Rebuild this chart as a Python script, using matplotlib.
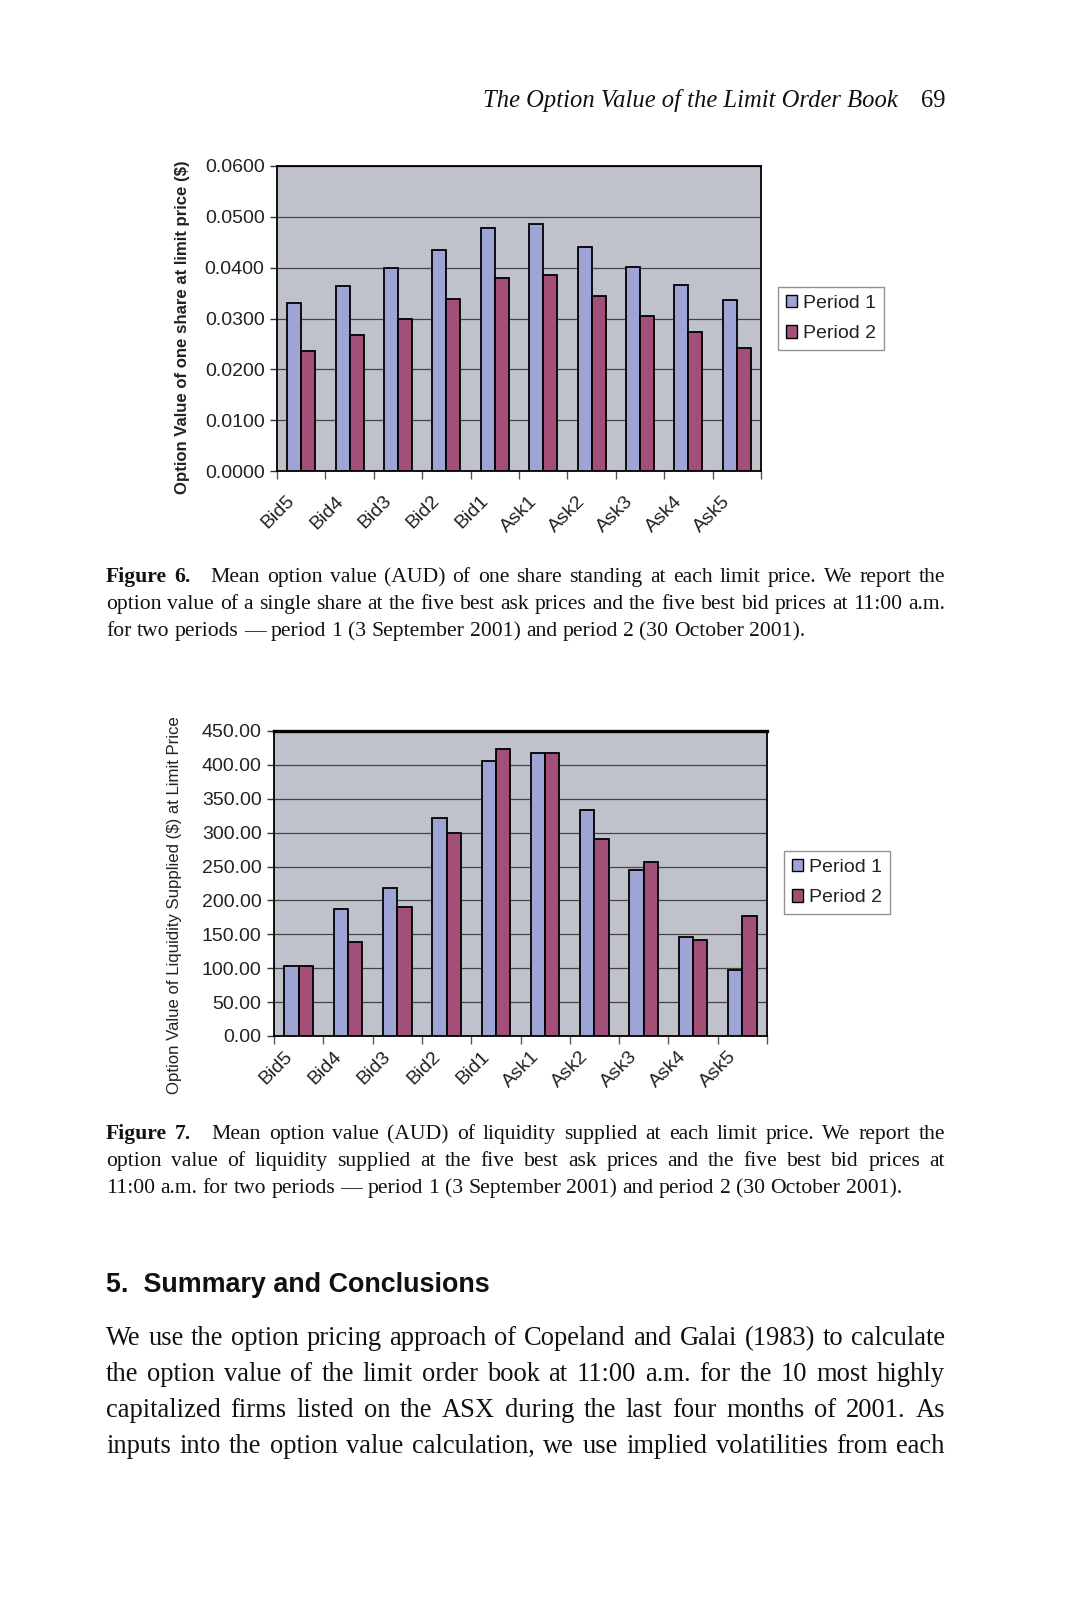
import matplotlib
matplotlib.use("Agg")
import matplotlib.pyplot as plt
from matplotlib.patches import Patch
from matplotlib.transforms import ScaledTranslation
import numpy as np

W, H = 1069, 1600
categories = ["Bid5", "Bid4", "Bid3", "Bid2", "Bid1", "Ask1", "Ask2", "Ask3", "Ask4", "Ask5"]
fig6_period1 = [0.0330, 0.0363, 0.0399, 0.0434, 0.0479, 0.0485, 0.0440, 0.0401, 0.0365, 0.0336]
fig6_period2 = [0.0237, 0.0267, 0.0300, 0.0338, 0.0380, 0.0386, 0.0345, 0.0305, 0.0273, 0.0242]
fig7_period1 = [103, 188, 218, 321, 406, 417, 334, 245, 146, 97]
fig7_period2 = [103, 139, 191, 299, 424, 417, 290, 256, 142, 177]
fig6_yticks = [0.0, 0.01, 0.02, 0.03, 0.04, 0.05, 0.06]
fig7_yticks = [0, 50, 100, 150, 200, 250, 300, 350, 400, 450]
series_names = ["Period 1", "Period 2"]

C1 = "#9ea5d6"
C2 = "#a2507a"
BG = "#bfc2cb"
SANS = ["Liberation Sans", "DejaVu Sans"]
SERIF = ["Liberation Serif", "DejaVu Serif"]

fig = plt.figure(figsize=(W / 100, H / 100), dpi=100)
fig.patch.set_facecolor("white")


def axrect(l, t, r, b):
    return [l / W, 1 - b / H, (r - l) / W, (b - t) / H]


def bar_chart(rect, p1, p2, yticks, fmt, ylabel, ylabel_xy, ylabel_bold, legend_xy, top_lw, xpad):
    ax = fig.add_axes(rect)
    ax.set_facecolor(BG)
    x = np.arange(len(categories))
    w = 0.29
    ax.bar(x - w / 2, p1, w, color=C1, edgecolor="black", linewidth=1.3, zorder=3)
    ax.bar(x + w / 2, p2, w, color=C2, edgecolor="black", linewidth=1.3, zorder=3)
    ax.set_xlim(-0.5, len(categories) - 0.5)
    ax.set_ylim(yticks[0], yticks[-1])
    ax.set_yticks(yticks)
    ax.set_yticklabels([fmt % v for v in yticks], fontfamily=SANS, fontsize=14, color="#222222")
    ax.yaxis.grid(True, color="#444444", linewidth=0.9, zorder=1)
    ax.set_axisbelow(True)
    ax.tick_params(axis="y", direction="out", length=5, width=1, pad=4, color="#333333")
    ax.set_xticks(x)
    ax.set_xticklabels(categories, fontfamily=SANS, fontsize=14, rotation=45,
                       ha="right", va="top", rotation_mode="anchor", color="#222222")
    ax.tick_params(axis="x", which="major", length=0, pad=xpad)
    off = ScaledTranslation(-15 / 100, 0, fig.dpi_scale_trans)
    for lab in ax.get_xticklabels():
        lab.set_transform(lab.get_transform() + off)
    ax.set_xticks(np.arange(-0.5, len(categories)), minor=True)
    ax.tick_params(axis="x", which="minor", direction="out", length=6, width=1, color="#555555")
    for s in ["left", "right", "bottom"]:
        ax.spines[s].set_color("black")
        ax.spines[s].set_linewidth(1.3)
    ax.spines["top"].set_color("black")
    ax.spines["top"].set_linewidth(top_lw)
    fig.text(ylabel_xy[0] / W, 1 - ylabel_xy[1] / H, ylabel, rotation=90, ha="center", va="center",
             fontfamily=SANS, fontsize=12.1, fontweight="bold" if ylabel_bold else "normal",
             color="#222222")
    handles = [Patch(facecolor=C1, edgecolor="black", linewidth=1.0),
               Patch(facecolor=C2, edgecolor="black", linewidth=1.0)]
    leg = fig.legend(handles, series_names, loc="upper left",
                     bbox_to_anchor=(legend_xy[0] / W, 1 - legend_xy[1] / H),
                     bbox_transform=fig.transFigure, fancybox=False, frameon=True,
                     prop={"family": SANS, "size": 14}, handlelength=0.6, handleheight=0.6,
                     handletextpad=0.3, labelspacing=0.7, borderpad=0.4, borderaxespad=0)
    leg.get_frame().set_edgecolor("#777777")
    leg.get_frame().set_linewidth(1.0)
    for t in leg.get_texts():
        t.set_color("#222222")
    return ax


bar_chart(axrect(277, 166, 761, 471), fig6_period1, fig6_period2, fig6_yticks, "%.4f",
          "Option Value of one share at limit price ($)", (183, 327), True, (778, 287), 1.3, 15.5)
bar_chart(axrect(274, 731, 767, 1036), fig7_period1, fig7_period2, fig7_yticks, "%.2f",
          "Option Value of Liquidity Supplied ($) at Limit Price", (175, 905), False, (784, 851), 2.4, 8.5)

fig.canvas.draw()
renderer = fig.canvas.get_renderer()


def measure(s, **kw):
    t = fig.text(0, 0, s, **kw)
    bb = t.get_window_extent(renderer)
    t.remove()
    return bb.width


def split_words(tokens):
    words = []
    for text, weight, style, extra in tokens:
        parts = text.split(" ")
        for i, p in enumerate(parts):
            words.append((p, weight, style, extra if i == len(parts) - 1 else 0.0))
    return words


def natural_width(tokens, size, family):
    words = split_words(tokens)
    widths = [measure(wd, fontsize=size, fontfamily=family, fontweight=wt, fontstyle=st)
              for wd, wt, st, _ in words]
    space = measure("a a", fontsize=size, fontfamily=family) - 2 * measure("a", fontsize=size, fontfamily=family)
    return sum(widths) + space * (len(words) - 1) + sum(e for *_, e in words[:-1])


def place_line(tokens, baseline, x0, x1, size, family, justify=True):
    words = split_words(tokens)
    widths = [measure(wd, fontsize=size, fontfamily=family, fontweight=wt, fontstyle=st)
              for wd, wt, st, _ in words]
    space = measure("a a", fontsize=size, fontfamily=family) - 2 * measure("a", fontsize=size, fontfamily=family)
    extras = sum(e for *_, e in words[:-1])
    n = len(words)
    if justify and n > 1:
        gap = (x1 - x0 - sum(widths) - extras) / (n - 1)
    else:
        gap = space
    x = x0
    for (wd, wt, st, e), wdt in zip(words, widths):
        fig.text(x / W, 1 - baseline / H, wd, fontsize=size, fontfamily=family, fontweight=wt,
                 fontstyle=st, va="baseline", ha="left", color="#111111")
        x += wdt + gap + e


N = "normal"
X0, X1 = 106, 945
# header
fig.text(898 / W, 1 - 107 / H, "The Option Value of the Limit Order Book", fontsize=17.7,
         fontfamily=SERIF, fontstyle="italic", ha="right", va="baseline", color="#111111")
fig.text(945 / W, 1 - 107 / H, "69", fontsize=17.7, fontfamily=SERIF, ha="right", va="baseline",
         color="#111111")

cap6 = [[("Figure 6.", "bold", N, 12), ("Mean option value (AUD) of one share standing at each limit price. We report the", N, N, 0)],
        [("option value of a single share at the five best ask prices and the five best bid prices at 11:00 a.m.", N, N, 0)],
        [("for two periods \u2014 period 1 (3 September 2001) and period 2 (30 October 2001).", N, N, 0)]]
cap7 = [[("Figure 7.", "bold", N, 12), ("Mean option value (AUD) of liquidity supplied at each limit price. We report the", N, N, 0)],
        [("option value of liquidity supplied at the five best ask prices and the five best bid prices at", N, N, 0)],
        [("11:00 a.m. for two periods \u2014 period 1 (3 September 2001) and period 2 (30 October 2001).", N, N, 0)]]

base = 14.0
fit = max(natural_width(l, base, SERIF) for l in cap6[:2] + cap7[:2])
s_fit = base * 0.995 * (X1 - X0) / fit
s_last = base * (822 - X0) / natural_width(cap6[2], base, SERIF)
CS = min(s_fit, s_last)

for i, l in enumerate(cap6):
    place_line(l, 582 + 27 * i, X0, X1, CS, SERIF, justify=(i < 2))
for i, l in enumerate(cap7):
    place_line(l, 1139 + 27 * i, X0, X1, CS, SERIF, justify=(i < 2))

fig.text(106 / W, 1 - 1292 / H, "5.  Summary and Conclusions", fontsize=19.4, fontfamily=SANS,
         fontweight="bold", ha="left", va="baseline", color="#111111")

body = ["We use the option pricing approach of Copeland and Galai (1983) to calculate",
        "the option value of the limit order book at 11:00 a.m. for the 10 most highly",
        "capitalized firms listed on the ASX during the last four months of 2001. As",
        "inputs into the option value calculation, we use implied volatilities from each"]
bfit = max(natural_width([(l, N, N, 0)], base, SERIF) for l in body)
BS = base * 0.99 * (X1 - X0) / bfit
for i, line in enumerate(body):
    place_line([(line, N, N, 0)], 1345 + 36 * i, X0, X1, BS, SERIF)

fig.savefig("out.png", dpi=100, facecolor="white")
